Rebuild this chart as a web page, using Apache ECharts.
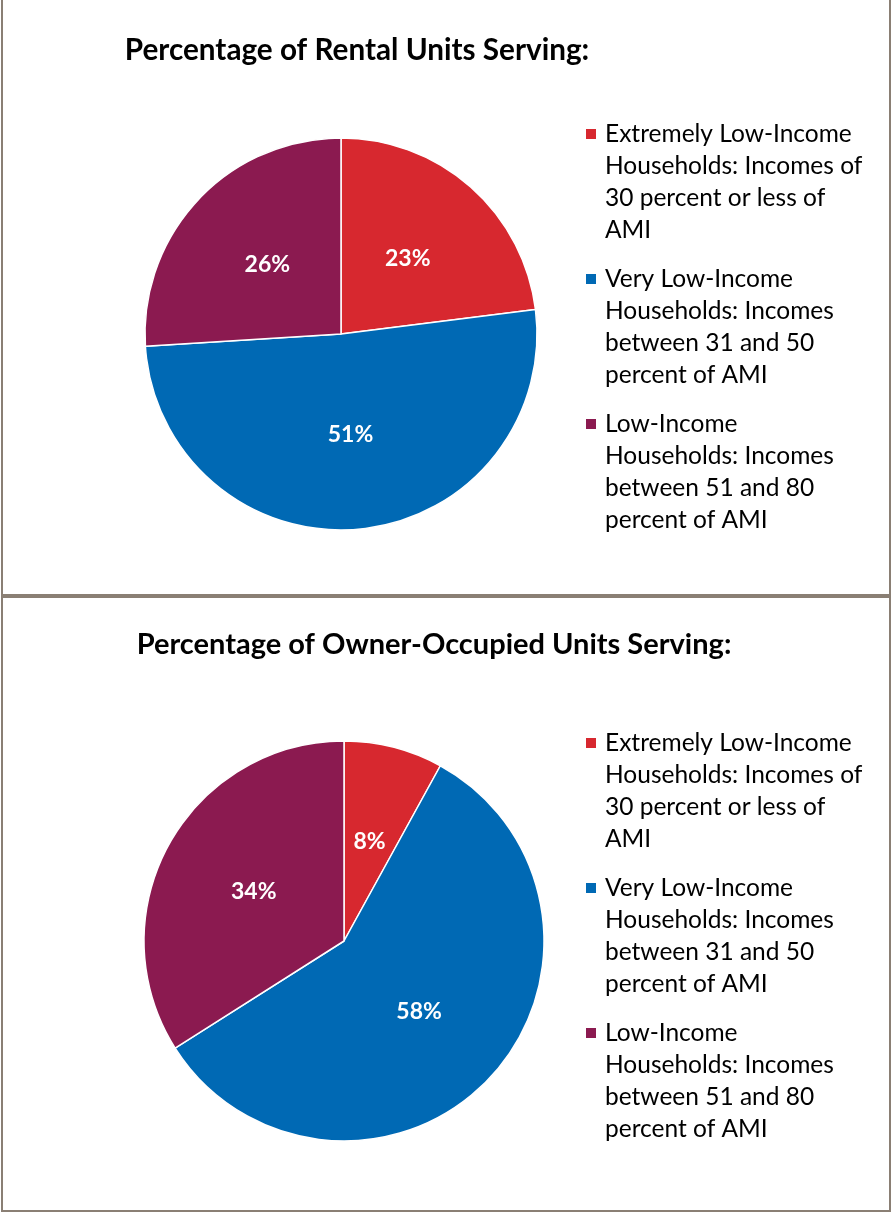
<!DOCTYPE html>
<html lang="en">
<head>
    <meta charset="UTF-8">
    <title>Percentage of Units Serving</title>
    <style>
        * { box-sizing: border-box; margin: 0; padding: 0; }
        body { width: 891px; height: 1213px; background: #fff; position: relative; overflow: hidden; }

        /* panel frames */
        .panel {
            position: absolute;
            left: 1px;
            width: 890px;
            border: 2px solid #8a7f74;
        }
        .panel.top { top: -2px; height: 598px; }
        .panel.bottom { top: 596px; height: 616px; }

        .chart { position: absolute; left: 0; width: 891px; }
        #chart1 { top: 0; height: 594px; }
        #chart2 { top: 598px; height: 612px; }
    </style>
    <script src="https://cdn.jsdelivr.net/npm/echarts@6/dist/echarts.min.js"></script>
</head>
<body>
    <div class="panel top"></div>
    <div class="panel bottom"></div>
    <div class="chart" id="chart1"></div>
    <div class="chart" id="chart2"></div>

    <script>
        // category names, one entry per legend line
        const categories = [
            ['Extremely Low-Income', 'Households: Incomes of', '30 percent or less of', 'AMI'],
            ['Very Low-Income', 'Households: Incomes', 'between 31 and 50', 'percent of AMI'],
            ['Low-Income', 'Households: Incomes', 'between 51 and 80', 'percent of AMI']
        ];
        const colors = ['#d7282f', '#0069b4', '#8b1a50'];

        const rentalTitle = 'Percentage of Rental Units Serving:';
        const rentalValues = [23, 51, 26];

        const ownerTitle = 'Percentage of Owner-Occupied Units Serving:';
        const ownerValues = [8, 58, 34];

        const FONT = 'Lato, "Open Sans", sans-serif';

        function buildOption(title, values, layout) {
            const names = categories.map(lines => lines.join('\n'));
            return {
                animation: false,
                color: colors,
                title: {
                    text: title,
                    left: layout.titleX,
                    top: layout.titleY,
                    textAlign: 'center',
                    textStyle: { fontFamily: FONT, fontSize: layout.titleSize, fontWeight: 'bold', color: '#000' }
                },
                legend: {
                    orient: 'vertical',
                    left: 584,
                    top: layout.legendTop,
                    padding: 0,
                    itemGap: -79,
                    itemWidth: 12,
                    itemHeight: 12,
                    icon: 'rect',
                    data: names,
                    // legend text is centred on the marker; blank lines on top
                    // move the first line level with it
                    formatter: name => '\n\n\n' + name,
                    textStyle: {
                        fontFamily: FONT,
                        fontSize: 24.5,
                        color: '#000',
                        lineHeight: 32,
                        padding: [0, 0, 0, 3]
                    }
                },
                series: [{
                    type: 'pie',
                    center: layout.center,
                    radius: layout.radius,
                    startAngle: 90,
                    clockwise: true,
                    label: {
                        show: true,
                        position: 'inside',
                        formatter: '{c}%',
                        fontFamily: FONT,
                        fontSize: 23,
                        fontWeight: 'bold',
                        color: '#fff'
                    },
                    labelLine: { show: false },
                    itemStyle: { borderColor: '#fff', borderWidth: 1.5 },
                    emphasis: { disabled: true },
                    data: values.map((v, i) => ({ name: names[i], value: v }))
                }]
            };
        }

        const chart1 = echarts.init(document.getElementById('chart1'));
        chart1.setOption(buildOption(rentalTitle, rentalValues, {
            titleX: 352, titleY: 30, titleSize: 29.7, legendTop: 22, center: [341, 334], radius: 196
        }));

        const chart2 = echarts.init(document.getElementById('chart2'));
        chart2.setOption(buildOption(ownerTitle, ownerValues, {
            titleX: 429, titleY: 27, titleSize: 29, legendTop: 33, center: [344, 343], radius: 200
        }));
    </script>
</body>
</html>
